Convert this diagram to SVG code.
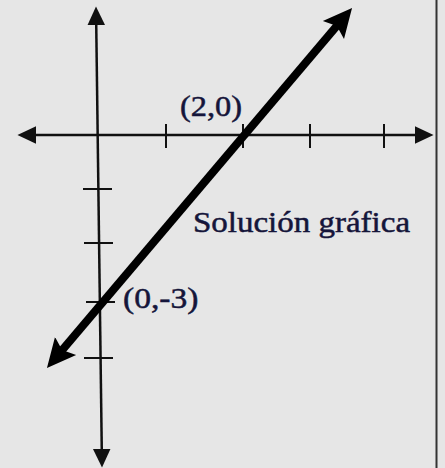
<svg xmlns="http://www.w3.org/2000/svg" width="445" height="468" viewBox="0 0 445 468">
<style>
.axis{stroke:#111;stroke-width:2.5;fill:none}
.tick{stroke:#111;stroke-width:2;fill:none}
.sol{stroke:#000;stroke-width:8;fill:none}
.lbl{font-family:"Liberation Serif",serif;font-size:30px;fill:#15153a;stroke:#15153a;stroke-width:0.5}
</style>
<defs>
<marker id="ah" markerUnits="userSpaceOnUse" markerWidth="20" markerHeight="20" viewBox="0 -9 18 18" refX="12" refY="0" orient="auto-start-reverse">
<path d="M0,-8 L17,0 L0,8 z" fill="#111"/>
</marker>
<marker id="bh" markerUnits="userSpaceOnUse" markerWidth="32" markerHeight="32" viewBox="0 -15 30 30" refX="12" refY="0" orient="auto-start-reverse">
<path d="M0,-13 L27,0 L0,13 L5,0 z" fill="#000"/>
</marker>
</defs>
<rect x="0" y="0" width="445" height="468" fill="#e6e6e6"/>
<line x1="436.5" y1="0" x2="436.5" y2="468" stroke="#333" stroke-width="2"/>
<g id="connectors">
<line class="axis" x1="23" y1="135" x2="428" y2="135" marker-start="url(#ah)" marker-end="url(#ah)"/>
<line class="axis" x1="96.07" y1="12" x2="101.93" y2="462" marker-start="url(#ah)" marker-end="url(#ah)"/>
<g id="ticks">
<line class="tick" x1="166" y1="124" x2="166" y2="148"/>
<line class="tick" x1="243" y1="124" x2="243" y2="148"/>
<line class="tick" x1="310" y1="124" x2="310" y2="148"/>
<line class="tick" x1="384" y1="124" x2="384" y2="148"/>
<line class="tick" x1="83" y1="189" x2="112" y2="189"/>
<line class="tick" x1="84" y1="243" x2="113" y2="243"/>
<line class="tick" x1="86" y1="302" x2="115" y2="302"/>
<line class="tick" x1="84" y1="358" x2="113" y2="358"/>
</g>
<line class="sol" x1="57.3" y1="355.8" x2="341.7" y2="20.2" marker-start="url(#bh)" marker-end="url(#bh)"/>
</g>
<g id="label-2-0"><text class="lbl" x="180" y="116" transform="translate(180 0) scale(1.08 1) translate(-180 0)">(2,0)</text></g>
<g id="label-0-3"><text class="lbl" x="123" y="308" transform="translate(123 0) scale(1.12 1) translate(-123 0)">(0,-3)</text></g>
<g id="label-solucion"><text class="lbl" x="193" y="232" transform="translate(193 0) scale(1.1 1) translate(-193 0)">Solución gráfica</text></g>
</svg>
